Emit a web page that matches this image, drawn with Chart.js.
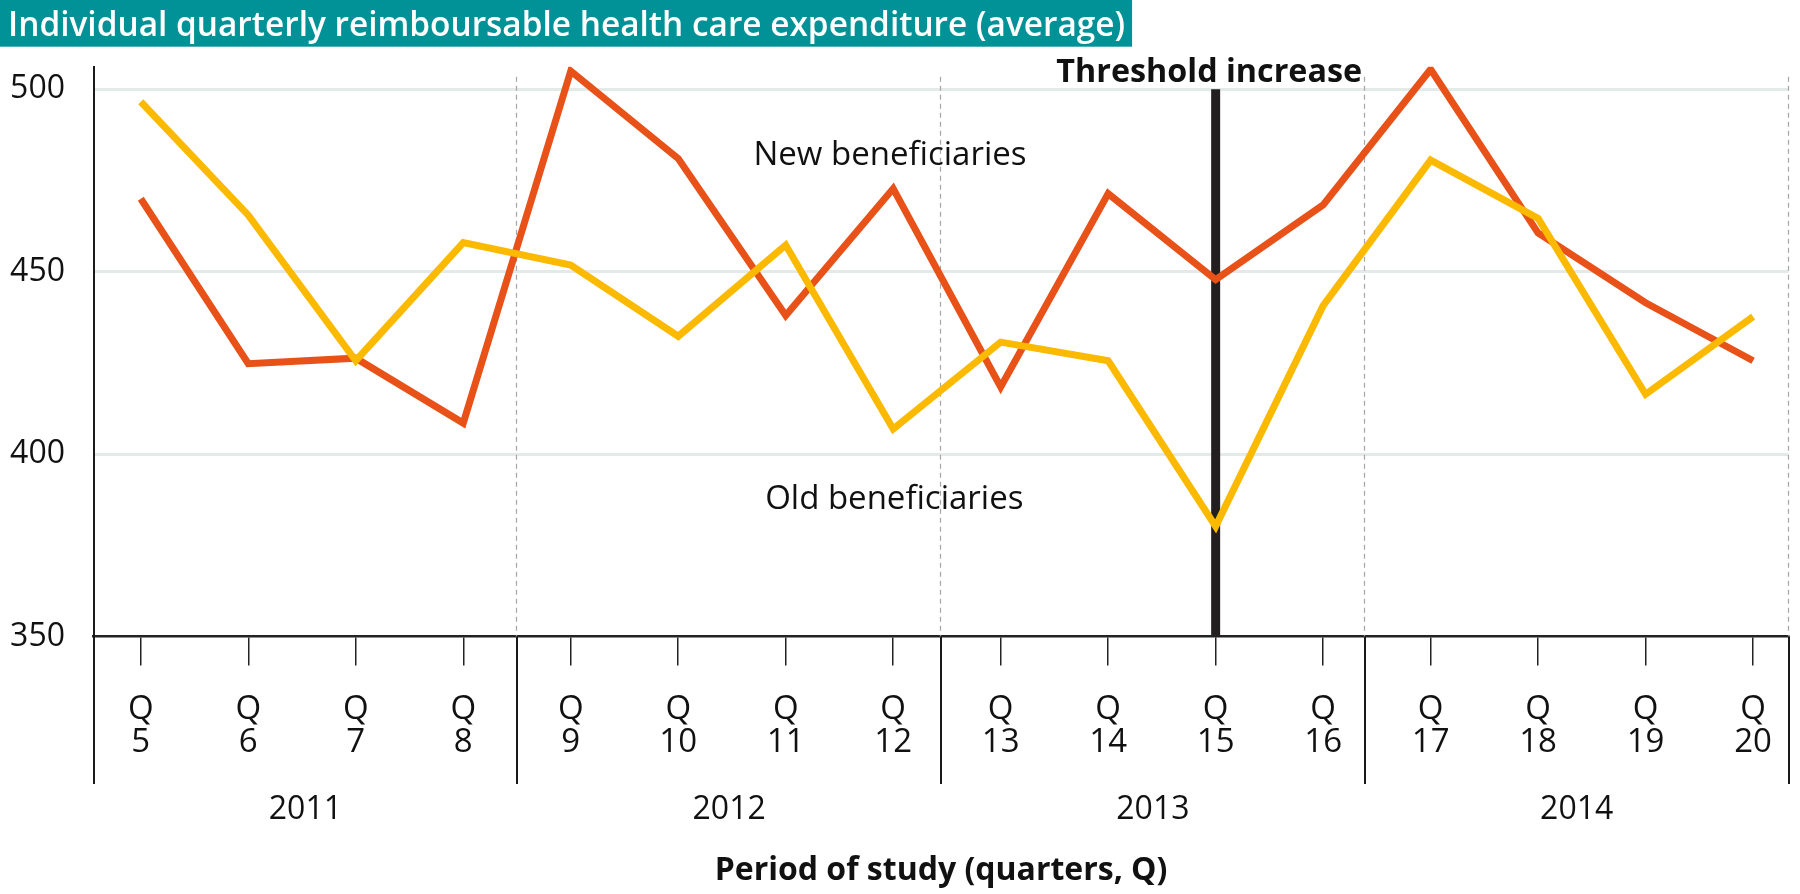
<!DOCTYPE html>
<html>
<head>
<meta charset="utf-8">
<script src="https://cdn.jsdelivr.net/npm/chart.js@4.4.1/dist/chart.umd.min.js"></script>
<style>
  html, body { margin: 0; padding: 0; background: #ffffff; }
  #wrap { width: 1800px; height: 894px; }
</style>
</head>
<body>
<div id="wrap"><canvas id="c" width="1800" height="894"></canvas></div>
<script>
// ---------- data ----------
const quarters = [5, 6, 7, 8, 9, 10, 11, 12, 13, 14, 15, 16, 17, 18, 19, 20];
const quarterPrefix = 'Q';
const years = ['2011', '2012', '2013', '2014'];
const yTicks = [350, 400, 450, 500];
const newBeneficiaries = [470, 424.8, 426.3, 408.5, 505, 481, 438, 472.8, 418.4, 471.4, 447.8, 468.3, 505.5, 460.6, 441.5, 425.6];
const oldBeneficiaries = [496.6, 465.5, 425.6, 458, 451.8, 432.3, 457.3, 406.9, 430.7, 425.6, 380.2, 440.7, 480.6, 464.6, 416.4, 437.7];
const thresholdQuarter = 15;
const titleText = 'Individual quarterly reimboursable health care expenditure (average)';
const xAxisTitle = 'Period of study (quarters, Q)';
const labelNew = 'New beneficiaries';
const labelOld = 'Old beneficiaries';
const labelThreshold = 'Threshold increase';

// ---------- styles ----------
const FONT = '"Open Sans", "Noto Sans", sans-serif';
const RED = '#e85118';
const YELLOW = '#fbb900';
const TEAL = '#009296';
const INK = '#111111';

const decorations = {
  id: 'decorations',
  beforeDraw(chart) {
    const ctx = chart.ctx;
    const t = chart.options.plugins.title;
    ctx.save();
    ctx.font = `${t.font.weight} ${t.font.size}px ${FONT}`;
    const w = ctx.measureText(titleText).width;
    ctx.fillStyle = TEAL;
    ctx.fillRect(0, 0, chart.titleBlock.left + w + 7, 46.7);
    ctx.restore();
  },
  beforeDatasetsDraw(chart) {
    const {ctx, chartArea} = chart;
    const xs = chart.scales.x, ys = chart.scales.y, yy = chart.scales.xYear;
    const band = (chartArea.right - chartArea.left) / years.length;
    ctx.save();
    // dashed year separators inside the plot
    ctx.strokeStyle = '#a6a6a6';
    ctx.lineWidth = 1.2;
    ctx.setLineDash([5, 4]);
    for (let k = 1; k <= years.length; k++) {
      const x = Math.round(chartArea.left + k * band) - 0.5;
      ctx.beginPath();
      ctx.moveTo(x, chartArea.top + 10);
      ctx.lineTo(x, chartArea.bottom);
      ctx.stroke();
    }
    ctx.setLineDash([]);
    // solid year separators below the axis
    ctx.strokeStyle = '#1a1a1a';
    ctx.lineWidth = 2;
    for (let k = 0; k <= years.length; k++) {
      const x = Math.round(chartArea.left + k * band);
      ctx.beginPath();
      ctx.moveTo(x, xs.top);
      ctx.lineTo(x, yy.top);
      ctx.stroke();
    }
    // threshold line
    const tx = xs.getPixelForValue(thresholdQuarter);
    ctx.strokeStyle = '#231f20';
    ctx.lineWidth = 9;
    ctx.beginPath();
    ctx.moveTo(tx, ys.getPixelForValue(Math.max(...yTicks)));
    ctx.lineTo(tx, chartArea.bottom);
    ctx.stroke();
    ctx.restore();
  },
  afterDatasetsDraw(chart) {
    const ctx = chart.ctx;
    const xs = chart.scales.x, ys = chart.scales.y;
    ctx.save();
    ctx.fillStyle = INK;
    ctx.textAlign = 'center';
    ctx.textBaseline = 'alphabetic';
    ctx.font = `33px ${FONT}`;
    ctx.fillText(labelNew, xs.getPixelForValue(11.97), ys.getPixelForValue(479.3));
    ctx.fillText(labelOld, xs.getPixelForValue(12.01), ys.getPixelForValue(384.9));
    ctx.font = `bold 32.3px ${FONT}`;
    ctx.fillText(labelThreshold, xs.getPixelForValue(14.94), ys.getPixelForValue(502.1));
    ctx.restore();
  }
};

new Chart(document.getElementById('c'), {
  type: 'line',
  data: {
    datasets: [
      {
        label: labelOld,
        data: quarters.map((q, i) => ({x: q, y: oldBeneficiaries[i]})),
        borderColor: YELLOW,
        borderWidth: 7,
        pointRadius: 0,
        tension: 0,
        borderJoinStyle: 'miter',
        fill: false
      },
      {
        label: labelNew,
        data: quarters.map((q, i) => ({x: q, y: newBeneficiaries[i]})),
        borderColor: RED,
        borderWidth: 7,
        pointRadius: 0,
        tension: 0,
        borderJoinStyle: 'miter',
        fill: false
      }
    ]
  },
  options: {
    responsive: false,
    animation: false,
    devicePixelRatio: 1,
    layout: { padding: { left: 8, right: 2.3, top: 0, bottom: 0 } },
    plugins: {
      legend: { display: false },
      tooltip: { enabled: false },
      title: {
        display: true,
        text: titleText,
        align: 'start',
        color: '#ffffff',
        font: { family: FONT, size: 33.4, weight: 600, lineHeight: 1.15 },
        padding: { top: 7.2, bottom: 21.1 }
      }
    },
    scales: {
      x: {
        type: 'linear',
        position: 'bottom',
        min: 4.56,
        max: 20.33,
        weight: 0,
        afterBuildTicks: s => { s.ticks = quarters.map(v => ({value: v})); },
        afterFit: s => { s.height = 147.5; },
        ticks: {
          autoSkip: false,
          maxRotation: 0,
          minRotation: 0,
          padding: 28,
          color: INK,
          font: { family: FONT, size: 33, lineHeight: 1.0 },
          callback: v => [quarterPrefix, String(v)]
        },
        grid: {
          drawOnChartArea: false,
          drawTicks: true,
          tickLength: 29,
          color: '#222222',
          lineWidth: 1.5
        },
        border: { display: true, color: '#222222', width: 2.5 }
      },
      xYear: {
        type: 'category',
        position: 'bottom',
        labels: years,
        offset: true,
        weight: 1,
        afterFit: s => { s.height = 110; },
        grid: { display: false, drawTicks: false, tickLength: 0 },
        border: { display: false },
        ticks: {
          padding: 6.4,
          color: INK,
          maxRotation: 0,
          font: { family: FONT, size: 32, lineHeight: 1.2 }
        },
        title: {
          display: true,
          text: xAxisTitle,
          color: INK,
          font: { family: FONT, size: 32, weight: 'bold', lineHeight: 1.2 },
          padding: { top: 0, bottom: 3.8 }
        }
      },
      y: {
        type: 'linear',
        min: 350,
        max: 506.2,
        afterBuildTicks: s => { s.ticks = yTicks.map(v => ({value: v})); },
        afterFit: s => { s.width = 85.5; },
        ticks: {
          padding: 28.5,
          color: INK,
          font: { family: FONT, size: 32 }
        },
        grid: {
          drawTicks: false,
          lineWidth: 3,
          color: c => (c.tick && c.tick.value === Math.min(...yTicks)) ? 'rgba(0,0,0,0)' : '#e4eae8'
        },
        border: { display: true, color: '#1a1a1a', width: 2 }
      }
    }
  },
  plugins: [decorations]
});
</script>
</body>
</html>
